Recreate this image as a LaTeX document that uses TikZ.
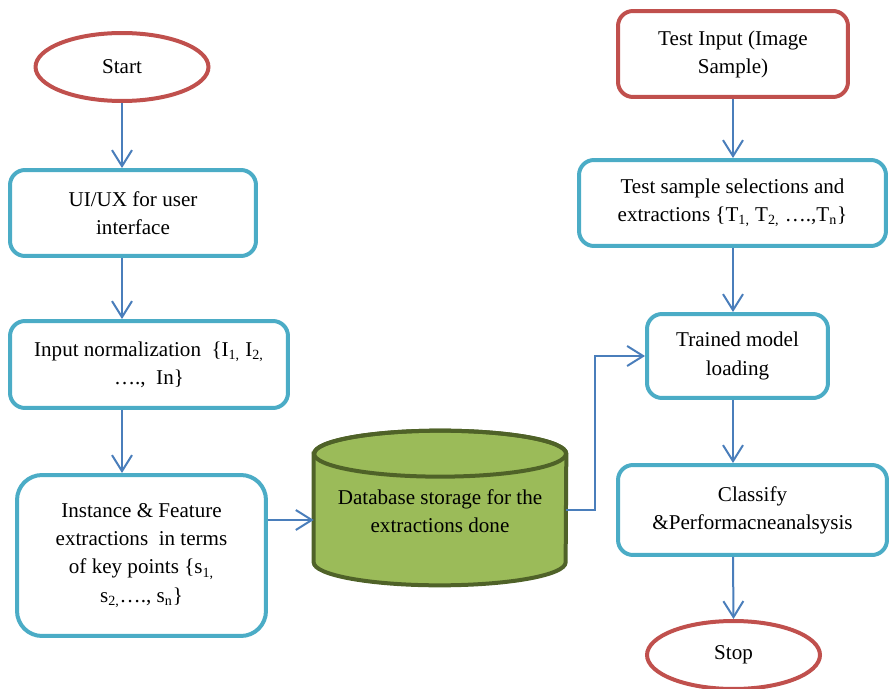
\documentclass[tikz,border=0pt]{standalone}
\usepackage{fontspec}
\setmainfont{Liberation Serif}
\usetikzlibrary{shapes.geometric,arrows.meta}
\definecolor{termred}{HTML}{C0504D}
\definecolor{boxteal}{HTML}{4BACC6}
\definecolor{flowblue}{HTML}{4A7EBB}
\definecolor{dbgreen}{HTML}{9BBB59}
\definecolor{dbedge}{HTML}{4F6228}

\begin{document}
\begin{tikzpicture}[x=0.02cm, y=-0.02cm,
  every node/.style={font=\fontsize{12}{16}\selectfont, align=center, inner sep=0pt},
  termnode/.style={ellipse, draw=termred, line width=0.08cm, minimum width=3.46cm, minimum height=1.36cm},
  procbox/.style={rectangle, rounded corners=0.3cm, draw=boxteal, line width=0.08cm},
  inbox/.style={rectangle, rounded corners=0.3cm, draw=termred, line width=0.08cm},
  dbbox/.style={rectangle, minimum width=5.04cm, minimum height=2.16cm},
  flowline/.style={draw=flowblue, line width=0.04cm, -{Straight Barb[length=0.32cm,width=0.4cm]}}]
  \useasboundingbox (0,0) rectangle (889,689);

  \node[termnode] (start) at (122,67) {Start};
  \node[procbox, minimum width=4.92cm, minimum height=1.72cm] (ui) at (133,213) {UI/UX for user\\interface};
  \node[procbox, minimum width=5.56cm, minimum height=1.74cm] (norm) at (149,364.5)
    {Input normalization\ \ \{I\textsubscript{1,} I\textsubscript{2,}\\….,\ \ In\}};
  \node[procbox, rounded corners=0.5cm, minimum width=4.98cm, minimum height=3.22cm] (inst) at (141.5,555.5)
    {Instance \& Feature\\extractions\ \ in terms\\of key points \{s\textsubscript{1,}\\s\textsubscript{2,}…., s\textsubscript{n}\}};

  % database cylinder
  \node[dbbox] (db) at (440,508) {};
  \filldraw[fill=dbgreen, draw=dbedge, line width=0.08cm] (db.north west) -- (db.south west)
    arc[start angle=180, end angle=360, x radius=2.52cm, y radius=0.46cm] -- (db.north east)
    arc[start angle=0, end angle=180, x radius=2.52cm, y radius=0.46cm] -- cycle;
  \draw[draw=dbedge, line width=0.08cm] (db.north) ellipse[x radius=2.52cm, y radius=0.46cm];
  \node (dbtext) at (440,511) {Database storage for the\\extractions done};

  \node[inbox, minimum width=4.6cm, minimum height=1.72cm] (testin) at (733,54) {Test Input (Image\\Sample)};
  \node[procbox, minimum width=6.14cm, minimum height=1.72cm] (testsel) at (732.5,203)
    {Test sample selections and\\extractions \{T\textsubscript{1,} T\textsubscript{2,} ….,T\textsubscript{n}\}};
  \node[procbox, minimum width=3.62cm, minimum height=1.68cm] (trained) at (737.5,356) {Trained model\\loading};
  \node[procbox, minimum width=5.38cm, minimum height=1.8cm] (classify) at (752.5,510)
    {Classify\\\&Performacneanalsysis};
  \node[termnode] (stop) at (733.5,655) {Stop};

  \draw[flowline] (start.south) -- (start.south |- ui.north);
  \draw[flowline] (start.south |- ui.south) -- (start.south |- norm.north);
  \draw[flowline] (start.south |- norm.south) -- (start.south |- inst.north);
  \draw[flowline] (inst.east |- 0,520) -- (db.west |- 0,520);
  \draw[flowline] (db.east |- 0,510) -- ++(29,0) |- (trained.west);
  \draw[flowline] (testin.south) -- (testin.south |- testsel.north);
  \draw[flowline] (testin.south |- testsel.south) -- (testin.south |- trained.north);
  \draw[flowline] (testin.south |- trained.south) -- (testin.south |- classify.north);
  \draw[flowline] (testin.south |- classify.south) -- (stop.north);
\end{tikzpicture}
\end{document}
